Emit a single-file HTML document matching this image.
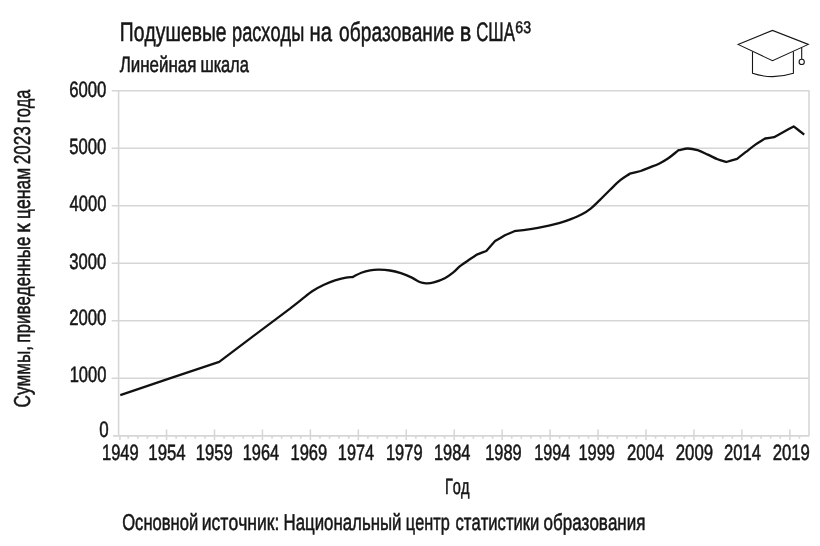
<!DOCTYPE html>
<html lang="ru"><head><meta charset="utf-8"><title>Подушевые расходы на образование в США</title>
<style>html,body{margin:0;padding:0;background:#fff}svg{display:block;will-change:transform}text{font-family:"Liberation Sans",sans-serif;font-kerning:none}</style>
</head><body>
<svg width="820" height="546" viewBox="0 0 820 546" font-family="'Liberation Sans', sans-serif" fill="#161616" stroke="#161616" stroke-width="0.55" text-rendering="geometricPrecision" font-kerning="none">
<rect width="820" height="546" fill="#fff" stroke="none"/>
<g stroke="#d6d6d6" stroke-width="1.55" fill="none">
<line x1="113.0" y1="435.85" x2="809.0" y2="435.85"/>
<line x1="111.7" y1="378.33" x2="809.0" y2="378.33"/>
<line x1="111.7" y1="320.82" x2="809.0" y2="320.82"/>
<line x1="111.7" y1="263.30" x2="809.0" y2="263.30"/>
<line x1="111.7" y1="205.78" x2="809.0" y2="205.78"/>
<line x1="111.7" y1="148.27" x2="809.0" y2="148.27"/>
<line x1="111.7" y1="90.75" x2="809.0" y2="90.75"/>
<line x1="118.6" y1="90.25" x2="118.6" y2="435.85"/>
<line x1="809.0" y1="90.25" x2="809.0" y2="436.35"/>
<path d="M119.90 435.85V440.05M128.19 435.85V438.65M137.78 435.85V438.65M147.37 435.85V438.65M156.96 435.85V438.65M166.54 429.45V440.05M176.13 435.85V438.65M185.72 435.85V438.65M195.31 435.85V438.65M204.90 435.85V438.65M214.49 429.45V440.05M224.08 435.85V438.65M233.67 435.85V438.65M243.26 435.85V438.65M252.84 435.85V438.65M262.43 429.45V440.05M272.02 435.85V438.65M281.61 435.85V438.65M291.20 435.85V438.65M300.79 435.85V438.65M310.38 429.45V440.05M319.97 435.85V438.65M329.56 435.85V438.65M339.14 435.85V438.65M348.73 435.85V438.65M358.32 429.45V440.05M367.91 435.85V438.65M377.50 435.85V438.65M387.09 435.85V438.65M396.68 435.85V438.65M406.27 429.45V440.05M415.86 435.85V438.65M425.44 435.85V438.65M435.03 435.85V438.65M444.62 435.85V438.65M454.21 429.45V440.05M463.80 435.85V438.65M473.39 435.85V438.65M482.98 435.85V438.65M492.57 435.85V438.65M502.16 429.45V440.05M511.74 435.85V438.65M521.33 435.85V438.65M530.92 435.85V438.65M540.51 435.85V438.65M550.10 429.45V440.05M559.69 435.85V438.65M569.28 435.85V438.65M578.87 435.85V438.65M588.46 435.85V438.65M598.04 429.45V440.05M607.63 435.85V438.65M617.22 435.85V438.65M626.81 435.85V438.65M636.40 435.85V438.65M645.99 429.45V440.05M655.58 435.85V438.65M665.17 435.85V438.65M674.76 435.85V438.65M684.34 435.85V438.65M693.93 429.45V440.05M703.52 435.85V438.65M713.11 435.85V438.65M722.70 435.85V438.65M732.29 435.85V438.65M741.88 429.45V440.05M751.47 435.85V438.65M761.06 435.85V438.65M770.64 435.85V438.65M780.23 435.85V438.65M789.82 429.45V440.05M799.41 435.85V438.65"/>
</g>
<path fill="none" stroke="#111" stroke-width="2.3" stroke-linejoin="round" stroke-linecap="butt" d="M120.30 395.10C153.27 384.00 186.23 372.90 219.20 361.80C242.80 344.07 266.40 326.33 290.00 308.60C294.00 305.43 298.17 302.07 302.00 299.10C305.83 296.13 309.33 293.18 313.00 290.80C316.67 288.42 320.33 286.53 324.00 284.80C327.67 283.07 331.33 281.60 335.00 280.40C338.67 279.20 343.08 278.15 346.00 277.60C348.92 277.05 350.33 277.27 352.50 277.10C355.43 275.63 358.37 273.83 361.30 272.70C364.23 271.57 367.17 270.80 370.10 270.30C373.03 269.80 375.60 269.67 378.90 269.70C382.20 269.73 386.23 269.92 389.90 270.50C393.57 271.08 397.23 272.02 400.90 273.20C404.57 274.38 408.78 276.13 411.90 277.60C415.02 279.07 417.22 281.05 419.60 282.00C421.98 282.95 423.83 283.23 426.20 283.30C428.57 283.37 430.70 283.25 433.80 282.40C436.90 281.55 441.50 279.92 444.80 278.20C448.10 276.48 451.07 274.10 453.60 272.10C456.13 270.10 457.48 268.22 460.00 266.20C462.52 264.18 465.78 261.98 468.70 260.00C471.62 258.02 474.57 256.20 477.50 254.30C480.43 253.20 483.37 252.10 486.30 251.00C489.23 247.70 492.17 244.40 495.10 241.10C498.37 239.13 501.63 237.17 504.90 235.20C508.07 233.87 511.23 232.53 514.40 231.20C518.57 230.70 522.98 230.25 526.90 229.70C530.82 229.15 534.23 228.57 537.90 227.90C541.57 227.23 545.23 226.53 548.90 225.70C552.57 224.87 556.23 224.00 559.90 222.90C563.57 221.80 567.23 220.53 570.90 219.10C574.57 217.67 578.60 216.05 581.90 214.30C585.20 212.55 587.77 210.92 590.70 208.60C593.63 206.28 596.22 203.58 599.50 200.40C602.78 197.22 606.93 192.87 610.40 189.50C613.87 186.13 617.07 182.83 620.30 180.20C623.53 177.57 626.63 175.87 629.80 173.70C633.43 172.80 637.07 171.90 640.70 171.00C643.57 169.87 646.25 168.82 649.30 167.60C652.35 166.38 655.83 165.25 659.00 163.70C662.17 162.15 665.05 160.55 668.30 158.30C671.55 156.05 675.10 152.90 678.50 150.20C681.60 149.63 684.62 148.50 687.80 148.50C690.98 148.50 694.27 149.18 697.60 150.20C700.93 151.22 704.47 153.08 707.80 154.60C711.13 156.12 714.52 158.07 717.60 159.30C720.68 160.53 723.40 161.10 726.30 162.00C729.90 160.93 733.50 159.87 737.10 158.80C739.93 156.60 742.55 154.57 745.60 152.20C748.65 149.83 752.15 146.88 755.40 144.60C758.65 142.32 761.87 140.53 765.10 138.50C768.10 138.07 771.10 137.63 774.10 137.20C777.37 135.40 780.63 133.60 783.90 131.80C787.17 130.00 790.43 128.20 793.70 126.40C797.20 129.13 800.70 131.87 804.20 134.60"/>
<text x="119.83" y="41.30" font-size="26.8" textLength="106.72" lengthAdjust="spacingAndGlyphs">Подушевые</text>
<text x="232.03" y="41.30" font-size="26.8" textLength="72.23" lengthAdjust="spacingAndGlyphs">расходы</text>
<text x="309.49" y="41.30" font-size="26.8" textLength="22.51" lengthAdjust="spacingAndGlyphs">на</text>
<text x="339.10" y="41.30" font-size="26.8" textLength="115.16" lengthAdjust="spacingAndGlyphs">образование</text>
<text x="459.69" y="41.30" font-size="26.8" textLength="11.55" lengthAdjust="spacingAndGlyphs">в</text>
<text x="476.15" y="41.30" font-size="26.8" textLength="38.68" lengthAdjust="spacingAndGlyphs">США</text>
<text x="515.28" y="33.30" font-size="16.8" textLength="15.74" lengthAdjust="spacingAndGlyphs">63</text>
<text x="119.65" y="72.10" font-size="22.2" textLength="76.82" lengthAdjust="spacingAndGlyphs">Линейная</text>
<text x="200.56" y="72.10" font-size="22.2" textLength="48.34" lengthAdjust="spacingAndGlyphs">шкала</text>
<text x="99.24" y="437.30" font-size="22.2" textLength="9.42" lengthAdjust="spacingAndGlyphs">0</text>
<text x="69.64" y="381.50" font-size="22.2" textLength="36.70" lengthAdjust="spacingAndGlyphs">1000</text>
<text x="69.16" y="325.30" font-size="22.2" textLength="37.19" lengthAdjust="spacingAndGlyphs">2000</text>
<text x="69.37" y="268.50" font-size="22.2" textLength="36.98" lengthAdjust="spacingAndGlyphs">3000</text>
<text x="69.62" y="211.00" font-size="22.2" textLength="36.72" lengthAdjust="spacingAndGlyphs">4000</text>
<text x="69.33" y="153.80" font-size="22.2" textLength="37.02" lengthAdjust="spacingAndGlyphs">5000</text>
<text x="69.15" y="97.00" font-size="22.2" textLength="37.20" lengthAdjust="spacingAndGlyphs">6000</text>
<text x="101.94" y="460.20" font-size="22.2" textLength="36.85" lengthAdjust="spacingAndGlyphs">1949</text>
<text x="148.32" y="460.20" font-size="22.2" textLength="37.37" lengthAdjust="spacingAndGlyphs">1954</text>
<text x="195.73" y="460.20" font-size="22.2" textLength="37.06" lengthAdjust="spacingAndGlyphs">1959</text>
<text x="242.75" y="460.20" font-size="22.2" textLength="36.43" lengthAdjust="spacingAndGlyphs">1964</text>
<text x="290.44" y="460.20" font-size="22.2" textLength="36.85" lengthAdjust="spacingAndGlyphs">1969</text>
<text x="337.86" y="460.20" font-size="22.2" textLength="36.22" lengthAdjust="spacingAndGlyphs">1974</text>
<text x="385.94" y="460.20" font-size="22.2" textLength="36.74" lengthAdjust="spacingAndGlyphs">1979</text>
<text x="433.95" y="460.20" font-size="22.2" textLength="36.43" lengthAdjust="spacingAndGlyphs">1984</text>
<text x="485.15" y="460.20" font-size="22.2" textLength="36.53" lengthAdjust="spacingAndGlyphs">1989</text>
<text x="534.26" y="460.20" font-size="22.2" textLength="36.11" lengthAdjust="spacingAndGlyphs">1994</text>
<text x="578.45" y="460.20" font-size="22.2" textLength="36.53" lengthAdjust="spacingAndGlyphs">1999</text>
<text x="627.07" y="460.20" font-size="22.2" textLength="36.92" lengthAdjust="spacingAndGlyphs">2004</text>
<text x="675.76" y="460.20" font-size="22.2" textLength="37.34" lengthAdjust="spacingAndGlyphs">2009</text>
<text x="723.97" y="460.20" font-size="22.2" textLength="36.92" lengthAdjust="spacingAndGlyphs">2014</text>
<text x="772.66" y="460.20" font-size="22.2" textLength="37.23" lengthAdjust="spacingAndGlyphs">2019</text>
<text x="445.01" y="494.10" font-size="22.2" textLength="24.44" lengthAdjust="spacingAndGlyphs">Год</text>
<text x="122.21" y="529.80" font-size="23" textLength="76.04" lengthAdjust="spacingAndGlyphs">Основной</text>
<text x="201.78" y="529.80" font-size="23" textLength="77.62" lengthAdjust="spacingAndGlyphs">источник:</text>
<text x="283.52" y="529.80" font-size="23" textLength="117.95" lengthAdjust="spacingAndGlyphs">Национальный</text>
<text x="405.87" y="529.80" font-size="23" textLength="43.81" lengthAdjust="spacingAndGlyphs">центр</text>
<text x="455.49" y="529.80" font-size="23" textLength="83.86" lengthAdjust="spacingAndGlyphs">статистики</text>
<text x="543.49" y="529.80" font-size="23" textLength="101.99" lengthAdjust="spacingAndGlyphs">образования</text>
<g transform="rotate(-90)">
<text x="-407.47" y="30.20" font-size="23" textLength="61.51" lengthAdjust="spacingAndGlyphs">Суммы,</text>
<text x="-342.67" y="30.20" font-size="23" textLength="106.13" lengthAdjust="spacingAndGlyphs">приведенные</text>
<text x="-232.99" y="30.20" font-size="23" textLength="9.68" lengthAdjust="spacingAndGlyphs">к</text>
<text x="-218.91" y="30.20" font-size="23" textLength="51.11" lengthAdjust="spacingAndGlyphs">ценам</text>
<text x="-164.16" y="30.20" font-size="23" textLength="37.91" lengthAdjust="spacingAndGlyphs">2023</text>
<text x="-123.23" y="30.20" font-size="23" textLength="33.63" lengthAdjust="spacingAndGlyphs">года</text>
</g>
<g fill="none" stroke="#161616" stroke-width="1.1" stroke-linejoin="miter">
<path d="M738 44.4L772.5 30.4L808.3 44.4L772.5 60.7Z"/>
<path d="M752.5 51.4V73.3Q772.5 80 793.4 73.3V51.4"/>
<path d="M801.7 47.5V59"/>
<circle cx="801.7" cy="61.9" r="2.6"/>
</g>
</svg>
</body></html>
